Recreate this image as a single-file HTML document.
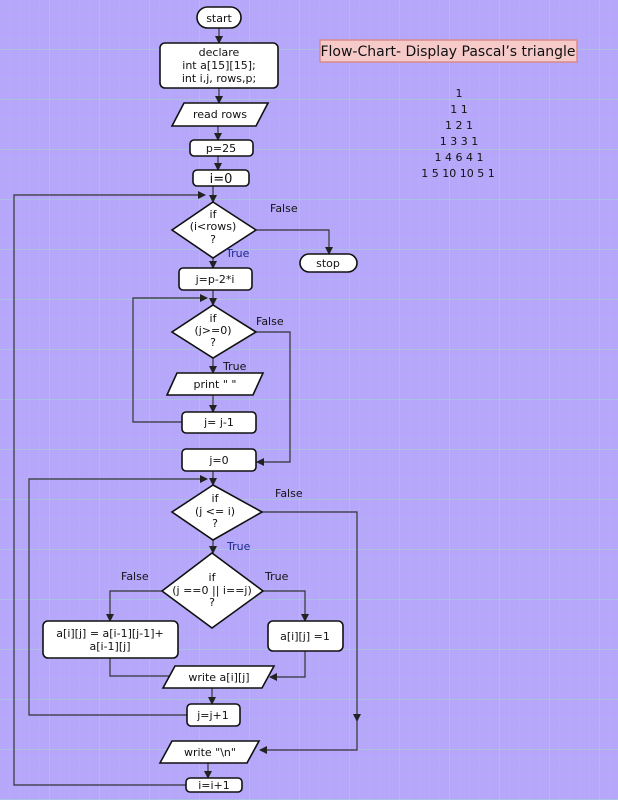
<!DOCTYPE html>
<html><head><meta charset="utf-8"><style>
html,body{margin:0;padding:0;background:#b7a7fb;}
svg{display:block;}
text{font-family:"DejaVu Sans","Liberation Sans",sans-serif;font-size:11px;fill:#111;}
.s{fill:#fff;stroke:#111;stroke-width:1.6;}
.l{fill:none;stroke:#333;stroke-width:1.2;}
</style></head><body>
<svg width="618" height="800" viewBox="0 0 618 800" xmlns="http://www.w3.org/2000/svg">
<defs>
<pattern id="g" width="10" height="10" patternUnits="userSpaceOnUse"><path d="M10 0V10M0 10H10" fill="none" stroke="#a8c4dc" stroke-width="0.6"/></pattern>
<pattern id="G" width="50" height="50" patternUnits="userSpaceOnUse"><path d="M50 0V50M0 50H50" fill="none" stroke="#9cdcc4" stroke-width="1"/></pattern>
<marker id="a" markerWidth="8" markerHeight="8" refX="7" refY="4" orient="auto" markerUnits="userSpaceOnUse"><path d="M0,0L8,4L0,8z" fill="#222"/></marker>
</defs>
<rect width="618" height="800" fill="#b7a7fb"/>
<rect width="618" height="800" fill="url(#g)"/>
<rect width="618" height="800" fill="url(#G)"/>

<!-- connectors -->
<g class="l" marker-end="url(#a)">
<path d="M219 28V43"/><path d="M219 88V103"/><path d="M218 126V140"/><path d="M218 156V170"/>
<path d="M213 186V202"/>
<path d="M186 785H14V195H205"/>
<path d="M256 230H329V254"/>
<path d="M213 258V268"/>
<path d="M213 290V305"/>
<path d="M213 358V373"/>
<path d="M213 395V412"/>
<path d="M182 422H133V298H207"/>
<path d="M256 332H290V462H257"/>
<path d="M213 471V485"/>
<path d="M213 540V553"/>
<path d="M162 591H110V621"/>
<path d="M263 591H305V621"/>
<path d="M110 658V676H178"/>
<path d="M305 651V677H270"/>
<path d="M212 688V704"/>
<path d="M187 715H29V479H207"/>
<path d="M262 512H357V721"/>
<path d="M357 721V750H260"/>
<path d="M208 763V778"/>
</g>

<!-- shapes -->
<rect class="s" x="197" y="7" width="44" height="21" rx="10.5"/>
<text x="219" y="22" text-anchor="middle">start</text>
<rect class="s" x="160" y="43" width="118" height="45" rx="5"/>
<text x="219" y="56" text-anchor="middle">declare</text>
<text x="219" y="69" text-anchor="middle">int a[15][15];</text>
<text x="219" y="82" text-anchor="middle">int i,j, rows,p;</text>
<polygon class="s" points="184,103 268,103 256,126 172,126"/>
<text x="220" y="118" text-anchor="middle">read rows</text>
<rect class="s" x="190" y="140" width="63" height="16" rx="4"/>
<text x="221" y="152" text-anchor="middle">p=25</text>
<rect class="s" x="193" y="170" width="56" height="16" rx="4"/>
<text x="221" y="183" text-anchor="middle" style="font-size:13px">i=0</text>
<polygon class="s" points="213,202 256,230 213,258 172,230"/>
<text x="213" y="218" text-anchor="middle">if</text>
<text x="213" y="230" text-anchor="middle">(i&lt;rows)</text>
<text x="213" y="243" text-anchor="middle">?</text>
<rect class="s" x="300" y="254" width="57" height="18" rx="9"/>
<text x="328" y="267" text-anchor="middle">stop</text>
<rect class="s" x="179" y="268" width="73" height="22" rx="4"/>
<text x="215" y="283" text-anchor="middle">j=p-2*i</text>
<polygon class="s" points="213,305 256,332 213,358 172,332"/>
<text x="213" y="322" text-anchor="middle">if</text>
<text x="213" y="334" text-anchor="middle">(j&gt;=0)</text>
<text x="213" y="346" text-anchor="middle">?</text>
<polygon class="s" points="177,373 263,373 253,395 167,395"/>
<text x="215" y="388" text-anchor="middle">print " "</text>
<rect class="s" x="182" y="412" width="74" height="21" rx="4"/>
<text x="219" y="426" text-anchor="middle">j= j-1</text>
<rect class="s" x="182" y="449" width="74" height="22" rx="4"/>
<text x="219" y="464" text-anchor="middle">j=0</text>
<polygon class="s" points="213,485 262,512 213,540 172,512"/>
<text x="215" y="502" text-anchor="middle">if</text>
<text x="215" y="515" text-anchor="middle">(j &lt;= i)</text>
<text x="215" y="527" text-anchor="middle">?</text>
<polygon class="s" points="212,553 263,591 212,628 162,591"/>
<text x="212" y="581" text-anchor="middle">if</text>
<text x="212" y="594" text-anchor="middle">(j ==0 || i==j)</text>
<text x="212" y="606" text-anchor="middle">?</text>
<rect class="s" x="43" y="621" width="135" height="37" rx="5"/>
<text x="110" y="637" text-anchor="middle">a[i][j] = a[i-1][j-1]+</text>
<text x="110" y="650" text-anchor="middle">a[i-1][j]</text>
<rect class="s" x="268" y="621" width="75" height="30" rx="5"/>
<text x="305" y="640" text-anchor="middle">a[i][j] =1</text>
<polygon class="s" points="175,666 274,666 262,688 163,688"/>
<text x="219" y="681" text-anchor="middle">write a[i][j]</text>
<rect class="s" x="187" y="704" width="53" height="22" rx="4"/>
<text x="213" y="719" text-anchor="middle">j=j+1</text>
<polygon class="s" points="172,741 259,741 247,763 160,763"/>
<text x="210" y="756" text-anchor="middle">write "\n"</text>
<rect class="s" x="186" y="778" width="56" height="14" rx="4"/>
<text x="214" y="789" text-anchor="middle">i=i+1</text>

<!-- labels -->
<text x="270" y="212">False</text>
<text x="226" y="257" style="fill:#1a2a8a">True</text>
<text x="256" y="325">False</text>
<text x="223" y="370">True</text>
<text x="275" y="497">False</text>
<text x="227" y="550" style="fill:#1a2a8a">True</text>
<text x="121" y="580">False</text>
<text x="265" y="580">True</text>

<!-- title -->
<rect x="320" y="40" width="257" height="22" fill="#f7caca" stroke="#d88a8a" stroke-width="1.5"/>
<text x="448" y="56" text-anchor="middle" style="font-size:14px">Flow-Chart- Display Pascal’s triangle</text>
<g style="font-size:12px" text-anchor="middle">
<text x="459" y="97">1</text>
<text x="459" y="113">1 1</text>
<text x="459" y="129">1 2 1</text>
<text x="459" y="145">1 3 3 1</text>
<text x="459" y="161">1 4 6 4 1</text>
<text x="458" y="177">1 5 10 10 5 1</text>
</g>
</svg>
</body></html>
